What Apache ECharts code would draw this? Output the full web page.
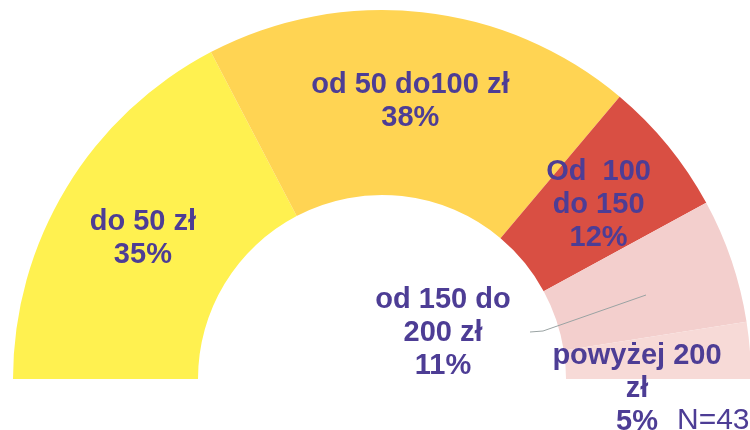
<!DOCTYPE html>
<html><head><meta charset="utf-8">
<script src="https://cdn.jsdelivr.net/npm/echarts/dist/echarts.min.js"></script>
<style>html,body{margin:0;padding:0;background:#fff}#c{width:750px;height:430px}</style>
</head><body><div id="c"></div>
<script>
const categories = ['do 50 zł', 'od 50 do100 zł', 'Od  100\ndo 150', 'od 150 do\n200 zł', 'powyżej 200\nzł'];
const values = [35, 38, 12, 11, 5];
const percentLabels = ['35%', '38%', '12%', '11%', '5%'];
const colors = ['#FFF150', '#FFD453', '#D94F43', '#F3CFCD', '#F7DAD7'];
const sampleNote = 'N=43';

const FONT = "'Liberation Sans', Arial, sans-serif";
const TXT = '#4D3D95';
const total = values.reduce((a, b) => a + b, 0);

const baseData = values.map((v, i) => ({ name: categories[i], value: v, itemStyle: { color: colors[i] } }));
baseData.push({ name: 'hidden', value: total, itemStyle: { color: 'rgba(0,0,0,0)' } });

const labelData = values.map((v, i) => {
  const d = { name: categories[i], value: v };
  if (i === 3) {
    d.label = { position: 'outside' };
    d.labelLine = { show: true, length: 10, length2: 10, lineStyle: { color: '#9AA3A3', width: 1 } };
  }
  return d;
});
labelData.push({ name: 'hidden', value: total, label: { show: false }, labelLine: { show: false } });

const chart = echarts.init(document.getElementById('c'), null, { renderer: 'canvas' });
chart.setOption({
  animation: false,
  title: {
    text: sampleNote, left: 672, top: 401, z: 200,
    textStyle: { fontSize: 30, fontWeight: 'normal', color: TXT, fontFamily: FONT }
  },
  graphic: [{
    type: 'rect', z: 50, silent: true,
    shape: { x: 0, y: 379.5, width: 750, height: 60 },
    style: { fill: '#ffffff' }
  }],
  series: [{
    type: 'pie', z: 1, silent: true,
    center: [382, 379], radius: [184, 369],
    startAngle: 180, clockwise: true,
    label: { show: false }, labelLine: { show: false },
    emphasis: { disabled: true },
    data: baseData
  }, {
    type: 'pie', z: 100, silent: true,
    center: [382, 379], radius: [184, 369],
    startAngle: 180, clockwise: true,
    avoidLabelOverlap: false,
    itemStyle: { color: 'rgba(0,0,0,0)' },
    emphasis: { disabled: true },
    labelLine: { show: false },
    label: {
      show: true, position: 'inside',
      fontSize: 29, fontWeight: 'bold', color: TXT, fontFamily: FONT,
      lineHeight: 33, align: 'center',
      formatter: p => p.dataIndex < values.length ? p.name + '\n' + percentLabels[p.dataIndex] : ''
    },
    labelLayout: function (params) {
      if (params.dataIndex === 0) return { dy: 4 };
      if (params.dataIndex === 1) return { dx: -2, dy: 0 };
      if (params.dataIndex === 2) return { dy: 3 };
      if (params.dataIndex === 3) return {
        x: 443, y: 333, align: 'center', verticalAlign: 'middle',
        labelLinePoints: [[646, 295], [543, 331], [530, 332]]
      };
      if (params.dataIndex === 4) return { x: 637, y: 389, align: 'center', verticalAlign: 'middle' };
      return {};
    },
    data: labelData
  }]
});
</script></body></html>
